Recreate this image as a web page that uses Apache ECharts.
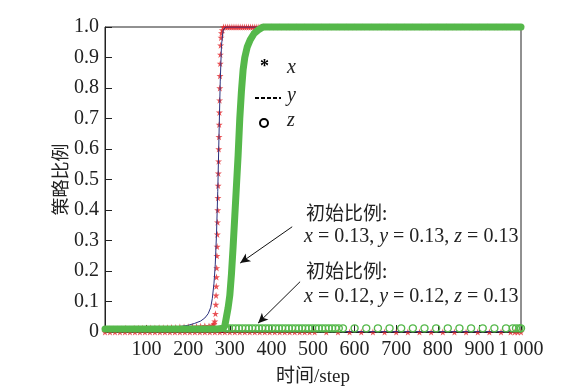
<!DOCTYPE html>
<html>
<head>
<meta charset="utf-8">
<script src="https://cdn.jsdelivr.net/npm/echarts@6/dist/echarts.min.js"></script>
<style>html,body{margin:0;padding:0;background:#fff}#c{width:581px;height:392px}</style>
</head>
<body>
<div id="c"></div>
<script>
// ---- data ----
const xTicks = [0,100,200,300,400,500,600,700,800,900,1000];
const yTicks = [0,0.1,0.2,0.3,0.4,0.5,0.6,0.7,0.8,0.9,1.0];

// case 1: initial x=0.13, y=0.13, z=0.13
const x1Steps = [0,10,20,30,40,50,60,70,80,90,100,110,120,130,140,150,160,170,180,190,200,210,220,230,240,250,258,262,264,265.5,266.5,267,267.5,268,268.5,269,269.5,270,270.5,271,271.5,272,272.5,273,273.5,274,274.5,275,275.5,276,276.5,277,277.5,278,279,280,282,285,290,295,300,305,310,315,320,325,330,335,340,345,350,355,360,365,370,375,380,400,420,440,460,480,500,520,540,560,580,600,620,640,660,680,700,720,740,760,780,800,820,840,860,880,900,920,940,960,980,1000];
const x1Vals  = [0.01,0.01,0.01,0.01,0.01,0.012,0.01,0.012,0.012,0.012,0.013,0.013,0.013,0.014,0.014,0.014,0.015,0.015,0.016,0.016,0.017,0.018,0.018,0.019,0.02,0.02,0.022,0.026,0.035,0.06,0.09,0.12,0.15,0.18,0.21,0.25,0.28,0.32,0.36,0.40,0.44,0.48,0.52,0.56,0.60,0.64,0.68,0.72,0.76,0.80,0.84,0.88,0.91,0.94,0.965,0.98,0.99,1,1,1,1,1,1,1,1,1,1,1,1,1,1,1,1,1,1,1,1,1,1,1,1,1,1,1,1,1,1,1,1,1,1,1,1,1,1,1,1,1,1,1,1,1,1,1,1,1,1,1];
const y1Steps = [0,50,100,150,180,200,215,230,240,248,254,258,262,265,268,271,274,277,280,284,290,400,600,800,1000];
const y1Vals  = [0.005,0.007,0.01,0.014,0.018,0.022,0.028,0.036,0.046,0.06,0.08,0.11,0.16,0.22,0.32,0.46,0.64,0.82,0.94,0.99,1,1,1,1,1];
const z1Steps = [0,40,80,120,160,200,240,270,284,288,292,296,300,304,308,312,316,320,324,328,332,336,342,349,358,368,380,450,550,650,750,850,950,1000];
const z1Vals  = [0.01,0.01,0.01,0.01,0.01,0.01,0.01,0.01,0.012,0.02,0.05,0.08,0.12,0.19,0.28,0.38,0.48,0.58,0.70,0.79,0.86,0.90,0.935,0.958,0.978,0.99,1,1,1,1,1,1,1,1];

// case 2: initial x=0.12, y=0.12, z=0.13
const x2Steps = [0,12,24,36,48,60,72,84,96,108,120,132,144,156,168,180,192,204,216,228,240,252,264,276,288,300,312,324,336,348,360,372,384,396,408,420,432,444,456,468,480,492,504,532,560,588,616,644,672,700,728,756,784,812,840,868,896,924,952,975,985,992,1000];
const x2Vals  = [0,0,0,0,0,0,0,0,0,0,0,0,0,0,0,0,0,0,0,0,0,0,0,0,0,0,0,0,0,0,0,0,0,0,0,0,0,0,0,0,0,0,0,0,0,0,0,0,0,0,0,0,0,0,0,0,0,0,0,0,0,0,0];
const y2Steps = [0,200,400,600,800,1000];
const y2Vals  = [0.005,0.004,0.002,0.001,0.001,0.001];
const z2Steps = [290,298,306,314,322,330,338,346,354,362,370,378,386,394,402,410,418,426,434,442,450,458,466,474,482,490,498,506,514,522,530,538,546,554,562,572,600,628,656,684,712,740,768,796,824,852,880,908,936,964,980,988,996,1000];
const z2Vals  = [0.012,0.012,0.012,0.012,0.012,0.012,0.012,0.012,0.012,0.012,0.012,0.012,0.012,0.012,0.012,0.012,0.012,0.012,0.012,0.012,0.012,0.012,0.012,0.012,0.012,0.012,0.012,0.012,0.012,0.012,0.012,0.012,0.012,0.012,0.012,0.012,0.012,0.012,0.012,0.012,0.012,0.012,0.012,0.012,0.012,0.012,0.012,0.012,0.012,0.012,0.012,0.012,0.012,0.012];

// annotation arrows (data space): [from, to]
const arrow1 = [[450,0.345],[325,0.226]];
const arrow2 = [[469,0.165],[368,0.029]];

// ---- chart ----
const zip = (a,b) => a.map((s,i)=>[s,b[i]]);
const RED = '#e3262b', BLUE = '#2a2f7c', GREEN = '#55b84a';
const SERIF = '"Liberation Serif","Noto Sans CJK SC",serif';
const STAR = 'path://M50,0 L61,35 L98,35 L68,57 L79,91 L50,70 L21,91 L32,57 L2,35 L39,35 Z';

const chart = echarts.init(document.getElementById('c'));
chart.setOption({
  animation:false,
  backgroundColor:'#fff',
  grid:{left:105,right:60,top:27,bottom:55,show:true,borderColor:'#222',borderWidth:1,backgroundColor:'transparent'},
  xAxis:{type:'value',min:0,max:1000,interval:100,
    name:'时间/step',nameLocation:'middle',nameGap:36,nameMoveOverlap:false,
    nameTextStyle:{fontFamily:SERIF,fontSize:19,color:'#222'},
    axisLine:{lineStyle:{color:'#222'}},
    axisTick:{inside:true,length:7,lineStyle:{color:'#222'}},
    splitLine:{show:false},
    axisLabel:{fontFamily:SERIF,fontSize:20,color:'#222',margin:8,
      formatter:v=> v===0?'':(v===1000?'1 000':String(v))}},
  yAxis:{type:'value',min:0,max:1,interval:0.1,
    name:'策略比例',nameLocation:'middle',nameGap:34,nameMoveOverlap:false,
    nameTextStyle:{fontFamily:SERIF,fontSize:18,color:'#222'},
    axisLine:{lineStyle:{color:'#222'}},
    axisTick:{inside:true,length:7,lineStyle:{color:'#222'}},
    splitLine:{show:false},
    axisLabel:{fontFamily:SERIF,fontSize:20,color:'#222',margin:6,
      formatter:v=> v===0?'0':v.toFixed(1)}},
  series:[
    {name:'x2',type:'scatter',data:zip(x2Steps,x2Vals),symbol:STAR,symbolSize:7,itemStyle:{color:RED},z:2,clip:false,silent:true},
    {name:'y2',type:'line',data:zip(y2Steps,y2Vals),showSymbol:false,lineStyle:{color:BLUE,width:1},z:3,silent:true},
    {name:'z2',type:'scatter',data:zip(z2Steps,z2Vals),symbol:'circle',symbolSize:7,itemStyle:{color:'rgba(255,255,255,0)',borderColor:GREEN,borderWidth:1.4,opacity:1},z:4,silent:true},
    {name:'x1',type:'scatter',data:zip(x1Steps,x1Vals),symbol:STAR,symbolSize:7,itemStyle:{color:RED},z:5,clip:false,silent:true},
    {name:'y1',type:'line',data:zip(y1Steps,y1Vals),showSymbol:false,lineStyle:{color:BLUE,width:1},z:6,silent:true},
    {name:'z1',type:'line',data:zip(z1Steps,z1Vals),showSymbol:false,clip:false,lineStyle:{color:GREEN,width:7,cap:'round',join:'round'},z:7,silent:true,
      markLine:{silent:true,symbol:['none','arrow'],symbolSize:[7,10],label:{show:false},
        lineStyle:{color:'#111',width:1,type:'solid'},animation:false,
        data:[[{coord:arrow1[0]},{coord:arrow1[1]}],[{coord:arrow2[0]},{coord:arrow2[1]}]]}}
  ],
  graphic:[
    {type:'text',left:260,top:58,style:{text:'*',font:'bold 18px "Liberation Serif"',fill:'#000'}},
    {type:'line',shape:{x1:255,y1:98,x2:281,y2:98},style:{stroke:'#000',lineWidth:2,lineDash:[4,2]}},
    {type:'circle',shape:{cx:264,cy:123,r:4},style:{stroke:'#000',fill:'none',lineWidth:2}},
    {type:'text',left:287,top:58,style:{text:'x',font:'italic 20px "Liberation Serif"',fill:'#222'}},
    {type:'text',left:287,top:86,style:{text:'y',font:'italic 20px "Liberation Serif"',fill:'#222'}},
    {type:'text',left:287,top:111,style:{text:'z',font:'italic 20px "Liberation Serif"',fill:'#222'}},
    {type:'text',left:306,top:203,style:{text:'初始比例:',font:'19px "Noto Sans CJK SC"',fill:'#222'}},
    {type:'text',left:304,top:227,style:{text:'{i|x} = 0.13, {i|y} = 0.13, {i|z} = 0.13',font:'20px "Liberation Serif"',fill:'#222',
      rich:{i:{fontStyle:'italic',fontFamily:'Liberation Serif',fontSize:20,fill:'#222'}}}},
    {type:'text',left:306,top:261,style:{text:'初始比例:',font:'19px "Noto Sans CJK SC"',fill:'#222'}},
    {type:'text',left:304,top:287,style:{text:'{i|x} = 0.12, {i|y} = 0.12, {i|z} = 0.13',font:'20px "Liberation Serif"',fill:'#222',
      rich:{i:{fontStyle:'italic',fontFamily:'Liberation Serif',fontSize:20,fill:'#222'}}}}
  ]
});
</script>
</body>
</html>
